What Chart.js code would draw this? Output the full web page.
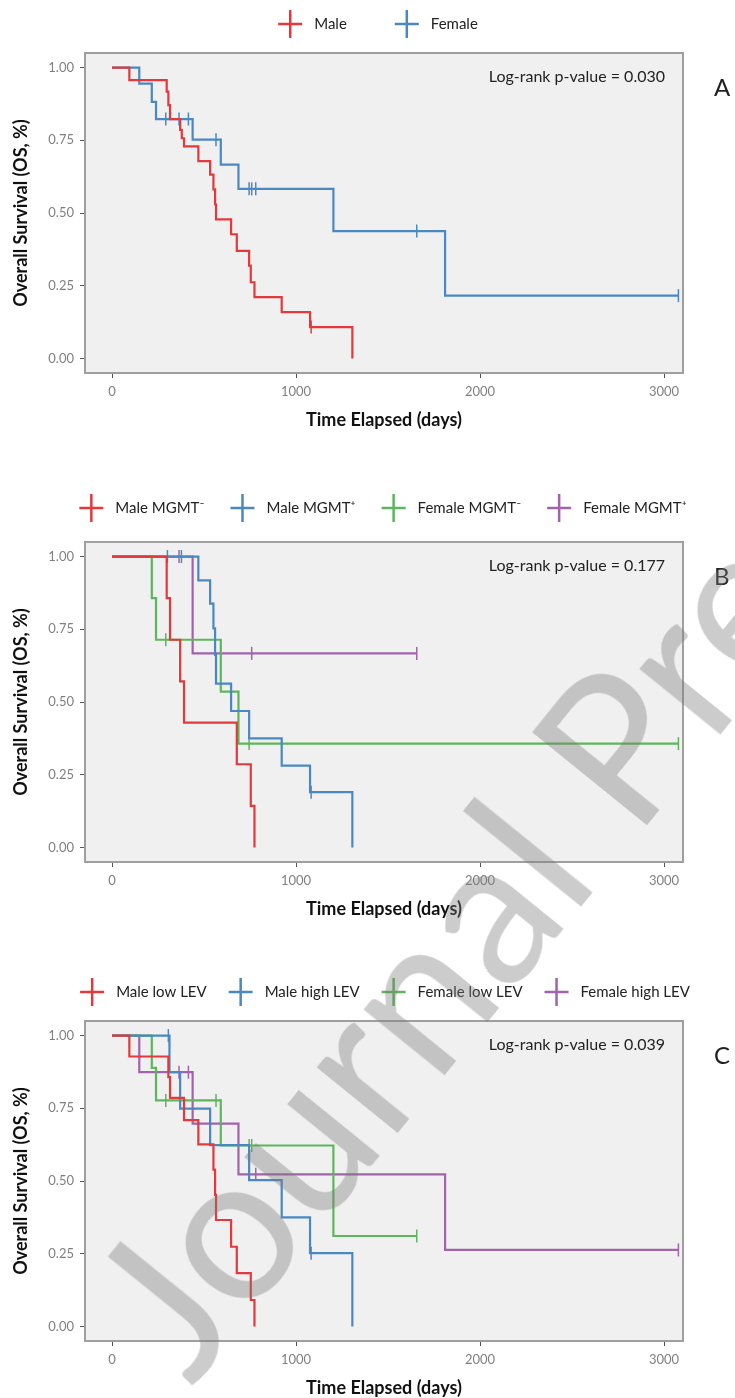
<!DOCTYPE html>
<html>
<head>
<meta charset="utf-8">
<title>Overall survival by sex, MGMT and LEV</title>
<script src="https://cdn.jsdelivr.net/npm/chart.js@4.4.1/dist/chart.umd.min.js"></script>
<style>
  html, body { margin: 0; padding: 0; background: #fff; overflow: hidden; }
  #page { position: relative; width: 735px; height: 1398px; overflow: hidden; }
  .panel { position: absolute; left: 0; width: 735px; height: 440px; }
  #watermark {
    position: absolute; left: 210px; top: 1198px;
    font: 205px Lato, sans-serif; line-height: 1; white-space: nowrap;
    color: rgba(120, 120, 120, 0.38);
    transform-origin: left bottom; transform: rotate(-51deg);
    pointer-events: none;
  }
</style>
</head>
<body>
<div id="page">
  <div class="panel" style="top:0"><canvas id="chartA" width="735" height="440"></canvas></div>
  <div class="panel" style="top:489px"><canvas id="chartB" width="735" height="440"></canvas></div>
  <div class="panel" style="top:968px"><canvas id="chartC" width="735" height="440"></canvas></div>
  <div id="watermark">Journal Pre-proof</div>
</div>
<script>
// ============================================
// Kaplan-Meier curves, three panels (A, B, C)
// ============================================

const xTicks = [0, 1000, 2000, 3000];
const yTicks = [0, 0.25, 0.5, 0.75, 1];

// -----------------------------
// Panel A: sex
// -----------------------------
const maleDaysA = [94, 297, 306, 315, 370, 379, 391, 469, 533, 551, 560, 565, 647, 678, 745, 754, 774, 922, 1076, 1306];
const maleSurvA = [0.957, 0.917, 0.871, 0.823, 0.786, 0.757, 0.729, 0.678, 0.632, 0.581, 0.530, 0.478, 0.427, 0.370, 0.319, 0.262, 0.211, 0.159, 0.108, 0];
const maleCensA = [1082];
const femaleDaysA = [148, 216, 239, 438, 591, 687, 1203, 1810];
const femaleSurvA = [0.945, 0.882, 0.823, 0.752, 0.666, 0.583, 0.438, 0.216];
const femaleCensA = [292, 364, 415, 565, 745, 759, 781, 1656, 3078];

// -----------------------------
// Panel B: sex x MGMT
// -----------------------------
const maleNegDaysB = [297, 315, 370, 391, 678, 754, 774];
const maleNegSurvB = [0.857, 0.714, 0.571, 0.429, 0.286, 0.143, 0];
const maleNegCensB = [];
const malePosDaysB = [469, 533, 551, 560, 565, 647, 745, 922, 1076, 1306];
const malePosSurvB = [0.918, 0.838, 0.753, 0.662, 0.563, 0.469, 0.375, 0.281, 0.190, 0];
const malePosCensB = [301, 377, 1082];
const femaleNegDaysB = [216, 239, 591, 687];
const femaleNegSurvB = [0.857, 0.714, 0.536, 0.357];
const femaleNegCensB = [292, 745, 3078];
const femalePosDaysB = [438];
const femalePosSurvB = [0.667];
const femalePosCensB = [364, 759, 1656];

// -----------------------------
// Panel C: sex x LEV
// -----------------------------
const maleLowDaysC = [94, 306, 315, 391, 469, 551, 560, 565, 647, 678, 754, 774];
const maleLowSurvC = [0.928, 0.857, 0.786, 0.709, 0.626, 0.539, 0.452, 0.366, 0.274, 0.183, 0.091, 0];
const maleLowCensC = [];
const maleHighDaysC = [312, 370, 533, 745, 922, 1076, 1306];
const maleHighSurvC = [0.874, 0.749, 0.623, 0.503, 0.375, 0.252, 0];
const maleHighCensC = [306, 1082];
const femaleLowDaysC = [216, 239, 591, 1203];
const femaleLowSurvC = [0.889, 0.777, 0.622, 0.311];
const femaleLowCensC = [292, 565, 745, 759, 1656];
const femaleHighDaysC = [148, 438, 687, 1810];
const femaleHighSurvC = [0.874, 0.697, 0.523, 0.263];
const femaleHighCensC = [364, 415, 781, 3078];

const RED = '#e3393c', BLUE = '#4a88c2', GREEN = '#5db65b', PURPLE = '#a063ac';

// -----------------------------
// Helpers
// -----------------------------
function survAt(days, surv, t) {
    let s = 1;
    days.forEach((d, i) => { if (d <= t) s = surv[i]; });
    return s;
}

function stepPoints(days, surv, cens) {
    const pts = [{ x: 0, y: 1 }];
    days.forEach((d, i) => pts.push({ x: d, y: surv[i] }));
    const lastCens = cens.length ? Math.max(...cens) : 0;
    if (lastCens > days[days.length - 1]) pts.push({ x: lastCens, y: surv[surv.length - 1] });
    return pts;
}

function kmSeries(label, color, days, surv, cens) {
    return [
        {
            label, data: stepPoints(days, surv, cens), stepped: true,
            borderColor: color, borderWidth: 2.2, pointRadius: 0, fill: false
        },
        {
            label: label + ' (censored)', censor: true,
            data: cens.map(t => ({ x: t, y: survAt(days, surv, t) })),
            showLine: false, borderColor: color, backgroundColor: color,
            pointStyle: 'line', rotation: 90, pointRadius: 6.5, borderWidth: 1.5
        }
    ];
}

// panel background + frame
const panelFrame = {
    id: 'panelFrame',
    beforeDraw(chart) {
        const { ctx, chartArea: a } = chart;
        ctx.save();
        ctx.fillStyle = '#f0f0f0';
        ctx.fillRect(a.left, a.top, a.width, a.height);
        ctx.restore();
    },
    beforeDatasetsDraw(chart) {
        const { ctx, chartArea: a } = chart;
        ctx.save();
        ctx.strokeStyle = '#9f9f9f';
        ctx.lineWidth = 2;
        ctx.strokeRect(a.left, a.top, a.width, a.height);
        ctx.restore();
    }
};

// ggplot-like legend with "+" keys above the panel
const kmLegend = {
    id: 'kmLegend',
    afterDraw(chart, args, opts) {
        const ctx = chart.ctx;
        const items = chart.data.datasets.filter(d => !d.censor);
        ctx.save();
        ctx.font = '15px Lato, sans-serif';
        const widths = items.map(d => ctx.measureText(d.label).width);
        let total = 0;
        widths.forEach(w => { total += opts.keyW + opts.textGap + w; });
        total += opts.itemGap * (items.length - 1);
        let x = opts.centerX - total / 2;
        const y = chart.chartArea.top - opts.offset;
        items.forEach((d, i) => {
            const cx = x + opts.keyW / 2;
            ctx.strokeStyle = d.borderColor;
            ctx.lineWidth = 2.5;
            ctx.beginPath();
            ctx.moveTo(x, y); ctx.lineTo(x + opts.keyW, y);
            ctx.moveTo(cx, y - opts.keyH / 2); ctx.lineTo(cx, y + opts.keyH / 2);
            ctx.stroke();
            ctx.fillStyle = '#222';
            ctx.textBaseline = 'middle';
            ctx.textAlign = 'left';
            ctx.fillText(d.label, x + opts.keyW + opts.textGap, y);
            x += opts.keyW + opts.textGap + widths[i] + opts.itemGap;
        });
        ctx.restore();
    }
};

// p-value note and panel letter
const kmNote = {
    id: 'kmNote',
    afterDraw(chart, args, opts) {
        const { ctx, chartArea: a } = chart;
        ctx.save();
        ctx.fillStyle = '#222';
        ctx.textBaseline = 'middle';
        ctx.font = '16px Lato, sans-serif';
        ctx.textAlign = 'right';
        ctx.fillText(opts.text, a.right - 18, a.top + 24);
        ctx.font = '24px Lato, sans-serif';
        ctx.textAlign = 'left';
        ctx.fillText(opts.letter, a.right + 31, a.top + 35);
        ctx.restore();
    }
};

Chart.defaults.font.family = 'Lato, sans-serif';

function makeChart(id, datasets, pText, letter, legendOpts) {
    const ctx = document.getElementById(id).getContext('2d');
    return new Chart(ctx, {
        type: 'line',
        data: { datasets },
        options: {
            responsive: false,
            animation: false,
            layout: { padding: { top: 53, left: 8, right: 52, bottom: 7 } },
            plugins: {
                legend: { display: false },
                tooltip: { enabled: false },
                kmLegend: legendOpts,
                kmNote: { text: pText, letter }
            },
            scales: {
                x: {
                    type: 'linear', min: -147, max: 3103,
                    afterBuildTicks: s => { s.ticks = xTicks.map(v => ({ value: v })); },
                    afterFit: s => { s.height = 60; },
                    border: { display: false },
                    grid: { drawOnChartArea: false, drawTicks: true, tickLength: 5, color: '#555' },
                    ticks: { color: '#808080', font: { size: 13 }, padding: 6, maxRotation: 0, callback: v => String(v) },
                    title: {
                        display: true, text: 'Time Elapsed (days)', color: '#111',
                        font: { size: 18, weight: 'bold' }, padding: { top: 2, bottom: 2 }
                    }
                },
                y: {
                    type: 'linear', min: -0.05, max: 1.05,
                    afterBuildTicks: s => { s.ticks = yTicks.map(v => ({ value: v })); },
                    afterFit: s => { s.width = 77; },
                    border: { display: false },
                    grid: { drawOnChartArea: false, drawTicks: true, tickLength: 5, color: '#555' },
                    ticks: { color: '#808080', font: { size: 13 }, padding: 6, callback: v => v.toFixed(2) },
                    title: {
                        display: true, text: 'Overall Survival (OS, %)', color: '#111',
                        font: { size: 18, weight: 'bold' }, padding: { top: 2, bottom: 2 }
                    }
                }
            }
        },
        plugins: [panelFrame, kmLegend, kmNote]
    });
}

window.addEventListener('load', () => {
    makeChart('chartA', [
        ...kmSeries('Male', RED, maleDaysA, maleSurvA, maleCensA),
        ...kmSeries('Female', BLUE, femaleDaysA, femaleSurvA, femaleCensA)
    ], 'Log-rank p-value = 0.030', 'A',
        { centerX: 378, offset: 29, keyW: 24, keyH: 28, textGap: 12, itemGap: 48 });

    makeChart('chartB', [
        ...kmSeries('Male MGMT\u207B', RED, maleNegDaysB, maleNegSurvB, maleNegCensB),
        ...kmSeries('Male MGMT\u207A', BLUE, malePosDaysB, malePosSurvB, malePosCensB),
        ...kmSeries('Female MGMT\u207B', GREEN, femaleNegDaysB, femaleNegSurvB, femaleNegCensB),
        ...kmSeries('Female MGMT\u207A', PURPLE, femalePosDaysB, femalePosSurvB, femalePosCensB)
    ], 'Log-rank p-value = 0.177', 'B',
        { centerX: 383, offset: 34, keyW: 24, keyH: 28, textGap: 12, itemGap: 26 });

    makeChart('chartC', [
        ...kmSeries('Male low LEV', RED, maleLowDaysC, maleLowSurvC, maleLowCensC),
        ...kmSeries('Male high LEV', BLUE, maleHighDaysC, maleHighSurvC, maleHighCensC),
        ...kmSeries('Female low LEV', GREEN, femaleLowDaysC, femaleLowSurvC, femaleLowCensC),
        ...kmSeries('Female high LEV', PURPLE, femaleHighDaysC, femaleHighSurvC, femaleHighCensC)
    ], 'Log-rank p-value = 0.039', 'C',
        { centerX: 385, offset: 29, keyW: 24, keyH: 28, textGap: 12, itemGap: 22 });
});
</script>
</body>
</html>
